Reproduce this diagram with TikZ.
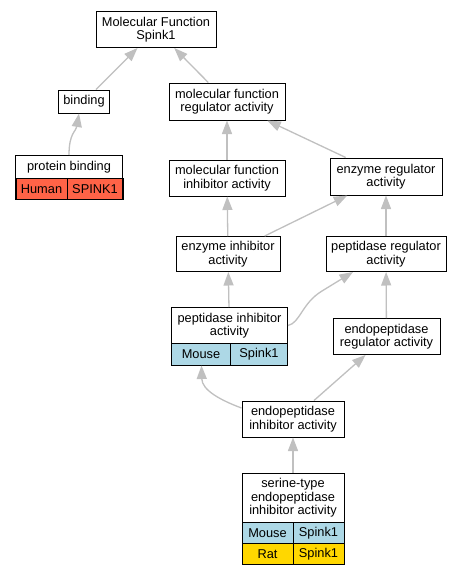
\documentclass[tikz,border=0pt]{standalone}
\usepackage{fontspec}
\setmainfont{Liberation Sans}
\usetikzlibrary{arrows.meta}
\definecolor{edgegray}{HTML}{C0C0C0}
\definecolor{humanred}{HTML}{FF6347}
\definecolor{mouseblue}{HTML}{ADD8E6}
\definecolor{ratgold}{HTML}{FFD700}
\begin{document}
\begin{tikzpicture}[x=1pt,y=-1pt,
  font=\fontsize{12.8}{13.4}\selectfont,
  box/.style={draw, line width=1pt, inner sep=0pt, align=center, fill=white},
  cell/.style={draw, line width=1pt, inner sep=0pt, align=center},
  frame/.style={draw, line width=1pt, inner sep=0pt},
  edge/.style={draw=edgegray, line width=1.3pt, -{Triangle[length=13.5pt,width=10pt]}}]
\useasboundingbox[fill=white] (0,0) rectangle (463,576);

% plain boxes
\node[box, minimum width=120pt, minimum height=36pt] (mf) at (156,29.5) {Molecular Function\\Spink1};
\node[box, minimum width=51pt, minimum height=23pt] (binding) at (84,101.5) {binding};
\node[box, minimum width=116pt, minimum height=37pt] (mfreg) at (227,101.5) {molecular function\\regulator activity};
\node[box, minimum width=116pt, minimum height=36pt] (mfinh) at (227,178) {molecular function\\inhibitor activity};
\node[box, minimum width=112pt, minimum height=37pt] (enzreg) at (386,176.5) {enzyme regulator\\activity};
\node[box, minimum width=104pt, minimum height=35pt] (enzinh) at (228,254) {enzyme inhibitor\\activity};
\node[box, minimum width=120pt, minimum height=35pt] (pepreg) at (386,254) {peptidase regulator\\activity};
\node[box, minimum width=107pt, minimum height=36pt] (endoreg) at (386.5,336.5) {endopeptidase\\regulator activity};
\node[box, minimum width=102pt, minimum height=36pt] (endoinh) at (293,419) {endopeptidase\\inhibitor activity};

% protein binding record
\node[cell, fill=white, minimum width=107pt, minimum height=23pt] (pbhead) at (69,167) {protein binding};
\node[cell, fill=humanred, minimum width=51pt, minimum height=21pt] (pbhuman) at (41.5,189) {Human};
\node[cell, fill=humanred, minimum width=56pt, minimum height=21pt] (pbspink) at (95,189) {SPINK1};
\node[frame, minimum width=107pt, minimum height=44pt] (protb) at (69,177.5) {};

% peptidase inhibitor record
\node[cell, fill=white, minimum width=116pt, minimum height=36pt] (pephead) at (229.5,325.5) {peptidase inhibitor\\activity};
\node[cell, fill=mouseblue, minimum width=59pt, minimum height=21.5pt] (pepmouse) at (201,354.25) {Mouse};
\node[cell, fill=mouseblue, minimum width=57pt, minimum height=21.5pt] (pepspink) at (259,354.25) {Spink1};
\node[frame, minimum width=116pt, minimum height=57.5pt] (pepinh) at (229.5,336.25) {};

% serine-type record
\node[cell, fill=white, minimum width=102pt, minimum height=49.5pt] (serhead) at (293,498) {serine-type\\endopeptidase\\inhibitor activity};
\node[cell, fill=mouseblue, minimum width=51pt, minimum height=20.5pt] (sermouse) at (267.5,533) {Mouse};
\node[cell, fill=mouseblue, minimum width=51pt, minimum height=20.5pt] (serspinkm) at (318.5,533) {Spink1};
\node[cell, fill=ratgold, minimum width=51pt, minimum height=21.5pt] (serrat) at (267.5,554) {Rat};
\node[cell, fill=ratgold, minimum width=51pt, minimum height=21.5pt] (serspinkr) at (318.5,554) {Spink1};
\node[frame, minimum width=102pt, minimum height=91.5pt] (serine) at (293,519) {};

% edges
\draw[edge] (binding) -- (mf);
\draw[edge] (mfreg) -- (mf);
\draw[edge] (protb.north) .. controls +(0,-22) and +(-3,18) .. ([xshift=-5pt]binding.south);
\draw[edge] (mfinh) -- (mfreg);
\draw[edge] (enzreg) -- (mfreg);
\draw[edge] (enzinh) -- (mfinh);
\draw[edge] (enzinh) -- (enzreg);
\draw[edge] (pepreg) -- (enzreg);
\draw[edge] (pepinh) -- (enzinh);
\draw[edge] (pephead.east) .. controls (300,323) and (302,303) .. (322,291) -- ([xshift=-33pt]pepreg.south);
\draw[edge] (endoreg) -- (pepreg);
\draw[edge] ([yshift=11pt]endoinh.west) .. controls (220,400) and (202,390) .. ([xshift=-28pt]pepinh.south);
\draw[edge] (endoinh) -- (endoreg);
\draw[edge] (serine) -- (endoinh);
\end{tikzpicture}
\end{document}
